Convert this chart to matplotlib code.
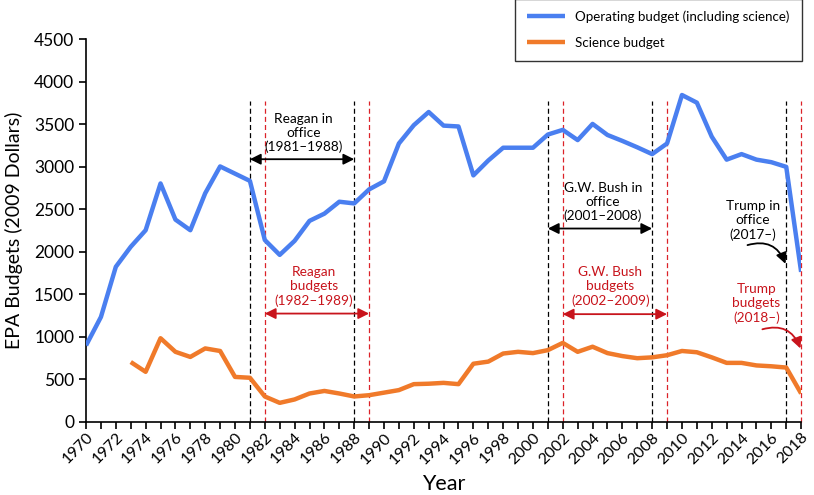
import numpy as np
import matplotlib
matplotlib.use("Agg")
import matplotlib.pyplot as plt

plt.rcParams['font.family'] = ['Lato', 'DejaVu Sans']

years = list(range(1970, 2019))
operating = [900, 1235, 1825, 2060, 2255, 2805, 2380, 2255, 2690, 3005,
             2920, 2835, 2140, 1965, 2130, 2365, 2450, 2590, 2570, 2735,
             2830, 3275, 3490, 3645, 3485, 3475, 2900, 3075, 3225, 3225,
             3225, 3380, 3435, 3315, 3505, 3375, 3305, 3230, 3150, 3275,
             3845, 3755, 3355, 3085, 3150, 3085, 3055, 3000, 1765]
sci_years = list(range(1973, 2019))
science = [705, 590, 985, 825, 765, 865, 835, 530, 520, 300,
           225, 265, 335, 365, 335, 300, 315, 345, 375, 445,
           450, 460, 445, 685, 710, 805, 825, 810, 845, 930,
           825, 885, 810, 775, 750, 760, 785, 835, 820, 760,
           695, 695, 665, 655, 640, 335]

office_start = [1981, 2001, 2017]
office_end = [1988, 2008]
budget_start = [1982, 2002, 2018]
budget_end = [1989, 2009]

fig = plt.figure(figsize=(8.14, 4.95), dpi=100)
ax = fig.add_axes([0.1057, 0.1475, 0.8785, 0.7731])

blue = '#4a7ff0'
orange = '#f07a2a'
red = '#c8141c'

ax.plot(years, operating, color=blue, lw=3.2, solid_capstyle='butt',
        label='Operating budget (including science)', zorder=3)
ax.plot(sci_years, science, color=orange, lw=3.2, solid_capstyle='butt',
        label='Science budget', zorder=3)

# term lines
for yr in office_start + office_end:
    ax.plot([yr, yr], [0, 3770], color='black', ls=(0, (4, 2.5)), lw=0.9,
            zorder=2, clip_on=False)
for yr in budget_start + budget_end:
    ax.plot([yr, yr], [0, 3770], color='#dc2228', ls=(0, (4, 2.5)), lw=0.9,
            zorder=2, clip_on=False)

# double arrows
def span(x0, x1, y, c):
    ax.annotate('', xy=(x0, y), xytext=(x1, y),
                arrowprops=dict(arrowstyle='<|-|>', color=c, lw=1.3,
                                mutation_scale=16, shrinkA=0, shrinkB=0))

span(1981, 1988, 3090, 'black')
span(1982, 1989, 1275, red)
span(2001, 2008, 2275, 'black')
span(2002, 2009, 1268, red)

fs = 9.8
ls = 1.2
ax.text(1984.6, 3400, 'Reagan in\noffice\n(1981\u20131988)', ha='center', va='center',
        fontsize=fs, linespacing=ls)
ax.text(1985.3, 1590, 'Reagan\nbudgets\n(1982\u20131989)', ha='center', va='center',
        fontsize=fs, color=red, linespacing=ls)
ax.text(2004.7, 2585, 'G.W. Bush in\noffice\n(2001\u20132008)', ha='center', va='center',
        fontsize=fs, linespacing=ls)
ax.text(2005.2, 1590, 'G.W. Bush\nbudgets\n(2002\u20132009)', ha='center', va='center',
        fontsize=fs, color=red, linespacing=ls)
ax.text(2014.75, 2373, 'Trump in\noffice\n(2017\u2013)', ha='center', va='center',
        fontsize=fs, linespacing=ls)
ax.text(2015.0, 1393, 'Trump\nbudgets\n(2018\u2013)', ha='center', va='center',
        fontsize=fs, color=red, linespacing=ls)

ax.annotate('', xy=(2016.95, 1860), xytext=(2014.4, 2080),
            arrowprops=dict(arrowstyle='-|>', color='black', lw=1.3, mutation_scale=16,
                            connectionstyle='arc3,rad=-0.45', shrinkA=0, shrinkB=0))
ax.annotate('', xy=(2017.95, 865), xytext=(2015.4, 1090),
            arrowprops=dict(arrowstyle='-|>', color=red, lw=1.3, mutation_scale=16,
                            connectionstyle='arc3,rad=-0.45', shrinkA=0, shrinkB=0))

ax.set_xlim(1970, 2018)
ax.set_ylim(0, 4500)
ax.set_xticks(range(1970, 2019, 2))
ax.set_xticks(range(1970, 2019), minor=True)
ax.set_yticks(range(0, 4501, 500))
ax.tick_params(axis='x', which='both', length=5, width=1.2, labelsize=11.5,
               labelrotation=45, pad=1)
ax.tick_params(axis='y', length=5, width=1.2, labelsize=12.5)
for lab in ax.get_xticklabels():
    lab.set_ha('right')
    lab.set_rotation_mode('anchor')
ax.spines['top'].set_visible(False)
ax.spines['right'].set_visible(False)
ax.spines['left'].set_linewidth(1.2)
ax.spines['bottom'].set_linewidth(1.2)
ax.set_xlabel('Year', fontsize=15.5, va='center')
ax.xaxis.set_label_coords(0.5, -0.162)
ax.set_ylabel('EPA Budgets (2009 Dollars)', fontsize=14, labelpad=8)

leg = fig.legend(loc='upper left', bbox_to_anchor=(0.633, 1.003), ncol=1,
                 borderaxespad=0, fontsize=9.6, frameon=True, fancybox=False,
                 edgecolor='black', handlelength=2.8, borderpad=0.9,
                 labelspacing=1.05, handletextpad=0.8)
leg.get_frame().set_linewidth(1.0)

fig.savefig('out.png', dpi=100)
